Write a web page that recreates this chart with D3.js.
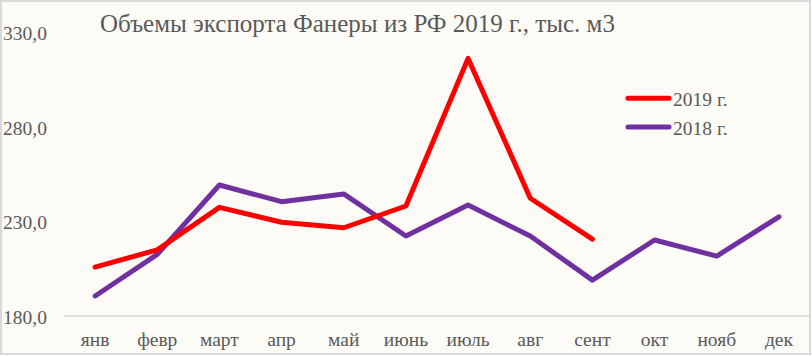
<!DOCTYPE html>
<html><head><meta charset="utf-8">
<script src="https://cdn.jsdelivr.net/npm/d3@7"></script>
<style>
html,body{margin:0;padding:0;background:#fff;}
svg{display:block;}
text{font-family:"Palatino Linotype","Book Antiqua",Palatino,"Liberation Serif",serif;fill:#595959;}
</style></head>
<body>
<svg id="c" width="812" height="356"></svg>
<script>
const months = ["янв","февр","март","апр","май","июнь","июль","авг","сент","окт","нояб","дек"];
const values2019 = [205.9, 215.0, 237.5, 229.6, 226.7, 238.2, 316.3, 242.3, 220.7];
const values2018 = [190.6, 212.6, 249.3, 240.5, 244.6, 222.3, 238.7, 222.3, 199.0, 220.2, 211.7, 232.5];
const yTicks = [180, 230, 280, 330];
const seriesNames = ["2019 г.", "2018 г."];
const title = "Объемы экспорта Фанеры из РФ 2019 г., тыс. м3";

const svg = d3.select("#c");
svg.append("rect").attr("x",1).attr("y",1).attr("width",809).attr("height",353)
  .attr("fill","#fcfbf6").attr("stroke","#d9d9d9").attr("stroke-width",2);

const x = d3.scaleBand().domain(months).range([64, 810]);
const y = d3.scaleLinear().domain([180, 330]).range([316, 32.5]);

// y labels
svg.append("g").selectAll("text").data(yTicks).join("text")
  .attr("x", 3).attr("y", d => y(d) + 7.5)
  .attr("font-size", 19.5)
  .text(d => d3.format(".1f")(d).replace(".", ","));

// baseline
svg.append("line").attr("x1",64).attr("x2",810).attr("y1",y(180)).attr("y2",y(180))
  .attr("stroke","#d9d9d9").attr("stroke-width",1.5);

// x labels
svg.append("g").selectAll("text").data(months).join("text")
  .attr("x", d => x(d) + x.bandwidth()/2).attr("y", 346)
  .attr("text-anchor","middle").attr("font-size", 19.5)
  .text(d => d);

const line = d3.line().x((d,i) => x(months[i]) + x.bandwidth()/2).y(d => y(d));

svg.append("path").datum(values2018).attr("d", line)
  .attr("fill","none").attr("stroke","#7030a0").attr("stroke-width",5)
  .attr("stroke-linejoin","round").attr("stroke-linecap","round");
svg.append("path").datum(values2019).attr("d", line)
  .attr("fill","none").attr("stroke","#ff0000").attr("stroke-width",5)
  .attr("stroke-linejoin","round").attr("stroke-linecap","round");

// title
svg.append("text").attr("x", 100).attr("y", 32)
  .attr("font-size", 25).text(title);

// legend
const colors = ["#ff0000", "#7030a0"];
const lg = svg.append("g");
seriesNames.forEach((n, i) => {
  const ly = 98.3 + i * 28.8;
  lg.append("line").attr("x1", 628).attr("x2", 669).attr("y1", ly).attr("y2", ly)
    .attr("stroke", colors[i]).attr("stroke-width", 5).attr("stroke-linecap","round");
  lg.append("text").attr("x", 673).attr("y", ly + 7.5)
    .attr("font-size", 19.5).text(n);
});
</script>
</body></html>
